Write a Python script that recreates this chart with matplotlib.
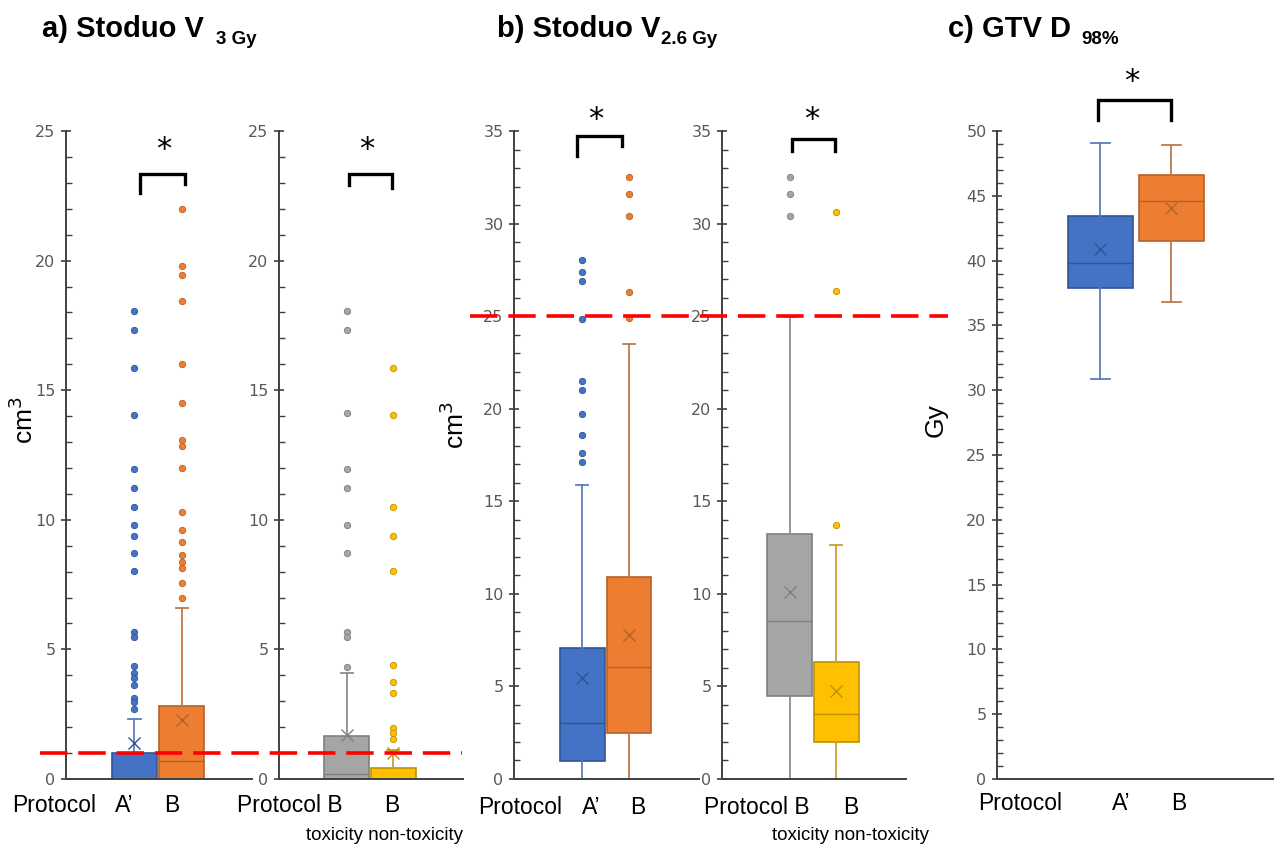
import matplotlib
matplotlib.use('Agg')
import matplotlib.pyplot as plt
from matplotlib.ticker import MultipleLocator
from matplotlib.transforms import blended_transform_factory

# ---------------- data ----------------
groups_ab = ["A'", "B"]
groups_tox = ["B toxicity", "B non-toxicity"]

# panel a : Stoduo V3Gy (cm3)
a_Aprime = dict(q1=0.0, med=0.0, q3=1.0, whislo=0.0, whishi=2.31, mean=1.39)
a_Aprime_out = [18.04, 17.33, 15.87, 14.03, 11.96, 11.22, 10.48, 9.79, 9.36, 8.71, 8.04,
                5.69, 5.48, 4.36, 4.09, 3.88, 3.63, 3.14, 2.97, 2.70]
a_B = dict(q1=0.0, med=0.71, q3=2.82, whislo=0.0, whishi=6.6, mean=2.28)
a_B_out = [21.98, 19.8, 19.46, 18.43, 16.02, 14.49, 13.07, 12.85, 12.0, 10.3, 9.62,
           9.14, 8.63, 8.37, 8.14, 7.56, 7.0]
a_tox = dict(q1=0.0, med=0.19, q3=1.67, whislo=0.0, whishi=4.09, mean=1.7)
a_tox_out = [18.04, 17.33, 14.13, 11.96, 11.22, 9.79, 8.71, 5.69, 5.48, 4.34]
a_nontox = dict(q1=0.0, med=0.0, q3=0.42, whislo=0.0, whishi=1.1, mean=1.0)
a_nontox_out = [15.87, 14.03, 10.48, 9.36, 8.04, 4.39, 3.75, 3.32, 1.97, 1.77, 1.54]
a_limit = 1.0

# panel b : Stoduo V2.6Gy (cm3)
b_Aprime = dict(q1=0.97, med=3.0, q3=7.05, whislo=0.0, whishi=15.88, mean=5.43)
b_Aprime_out = [28.05, 27.37, 26.89, 24.86, 21.51, 21.02, 19.74, 18.56, 17.62, 17.14]
b_B = dict(q1=2.48, med=6.03, q3=10.93, whislo=0.0, whishi=23.49, mean=7.77)
b_B_out = [32.51, 31.6, 30.39, 26.33, 24.9]
b_tox = dict(q1=4.49, med=8.52, q3=13.23, whislo=0.0, whishi=24.96, mean=10.09)
b_tox_out = [32.54, 31.62, 30.41]
b_nontox = dict(q1=2.02, med=3.51, q3=6.32, whislo=0.0, whishi=12.62, mean=4.75)
b_nontox_out = [30.65, 26.35, 13.73]
b_limit = 25.0

# panel c : GTV D98% (Gy)
c_Aprime = dict(q1=37.89, med=39.85, q3=43.45, whislo=30.84, whishi=49.09, mean=40.91)
c_B = dict(q1=41.53, med=44.62, q3=46.62, whislo=36.84, whishi=48.95, mean=44.07)

# ---------------- style ----------------
BLUE = ('#4472C4', '#2F5597', '#5B7DBF')
ORANGE = ('#ED7D31', '#B4612A', '#C27849')
GRAY = ('#A5A5A5', '#7F7F7F', '#8E8E8E')
YELLOW = ('#FFC000', '#BF9000', '#C9A030')
SPINE = '#404040'
TICKC = '#595959'

W, H = 1274, 848
fig = plt.figure(figsize=(W / 100, H / 100), dpi=100)


def rect(l, r, t, b):
    return [l / W, 1 - b / H, (r - l) / W, (b - t) / H]


def make_ax(l, r):
    ax = fig.add_axes(rect(l, r, 131, 779))
    ax.set_facecolor('none')
    for s in ('top', 'right'):
        ax.spines[s].set_visible(False)
    for s in ('left', 'bottom'):
        ax.spines[s].set_color(SPINE)
        ax.spines[s].set_linewidth(1.4)
    return ax


def finish_ax(ax, ymax, major, minor, xlim=(-0.45, 3.49)):
    ax.set_ylim(0, ymax)
    ax.set_xlim(*xlim)
    ax.set_xticks([])
    ax.yaxis.set_major_locator(MultipleLocator(major))
    ax.yaxis.set_minor_locator(MultipleLocator(minor))
    ax.tick_params(axis='y', which='major', direction='inout', length=7, width=1.2,
                   color=SPINE, labelcolor=TICKC, labelsize=11.5, pad=4)
    ax.tick_params(axis='y', which='minor', direction='in', length=4, width=1.0, color=SPINE)
    for lab in ax.get_yticklabels():
        lab.set_fontfamily('DejaVu Sans')


def draw_boxes(ax, stats_list, outs_list, colors_list, width=0.955, capw=0.26):
    for i, (st, outs, cols) in enumerate(zip(stats_list, outs_list, colors_list)):
        face, edge, whisk = cols
        s = dict(st)
        s['fliers'] = outs
        ax.bxp([s], positions=[i + 1], widths=width, patch_artist=True,
               showmeans=True, showfliers=True, capwidths=[capw], manage_ticks=False,
               boxprops=dict(facecolor=face, edgecolor=edge, linewidth=1.2),
               medianprops=dict(color=edge, linewidth=1.0),
               whiskerprops=dict(color=whisk, linewidth=1.3),
               capprops=dict(color=whisk, linewidth=1.3),
               meanprops=dict(marker='x', markeredgecolor=edge, markerfacecolor=edge,
                              markersize=8.5, markeredgewidth=1.0),
               flierprops=dict(marker='o', markerfacecolor=face, markeredgecolor=edge,
                               markersize=4.6, markeredgewidth=0.6))


def bracket(ax, x0, x1, ytop, yl, yr, ystar, xstar):
    ax.plot([x0, x0, x1, x1], [yl, ytop, ytop, yr], color='black', lw=2.4,
            clip_on=False, solid_joinstyle='miter')
    ax.text(xstar, ystar, '*', ha='center', va='center', fontsize=22,
            fontfamily='DejaVu Sans', clip_on=False)


# ---------------- panel a ----------------
a1 = make_ax(66, 252)
draw_boxes(a1, [a_Aprime, a_B], [a_Aprime_out, a_B_out], [BLUE, ORANGE])
finish_ax(a1, 25, 5, 1)
bracket(a1, 1.12, 2.07, 23.36, 22.6, 22.97, 24.3, 1.62)

a2 = make_ax(279, 463)
draw_boxes(a2, [a_tox, a_nontox], [a_tox_out, a_nontox_out], [GRAY, YELLOW])
finish_ax(a2, 25, 5, 1)
bracket(a2, 1.04, 1.98, 23.36, 22.9, 22.8, 24.3, 1.42)

tr = blended_transform_factory(fig.transFigure, a2.transData)
a2.plot([40 / W, 462 / W], [a_limit, a_limit], transform=tr, color='#FF0000', lw=2.6,
        linestyle=(0, (7.6, 3.0)), clip_on=False, zorder=10)

# ---------------- panel b ----------------
b1 = make_ax(514, 699)
draw_boxes(b1, [b_Aprime, b_B], [b_Aprime_out, b_B_out], [BLUE, ORANGE])
finish_ax(b1, 35, 5, 1)
bracket(b1, 0.89, 1.85, 34.74, 33.66, 34.2, 35.6, 1.3)

b2 = make_ax(722, 906)
draw_boxes(b2, [b_tox, b_nontox], [b_tox_out, b_nontox_out], [GRAY, YELLOW])
finish_ax(b2, 35, 5, 1)
bracket(b2, 1.04, 1.96, 34.57, 33.93, 33.93, 35.6, 1.47)

tr = blended_transform_factory(fig.transFigure, b2.transData)
b2.plot([470 / W, 948 / W], [b_limit, b_limit], transform=tr, color='#FF0000', lw=2.6,
        linestyle=(0, (7.6, 3.0)), clip_on=False, zorder=10)

# ---------------- panel c ----------------
c1 = make_ax(997, 1276)
draw_boxes(c1, [c_Aprime, c_B], [[], []], [BLUE, ORANGE], width=0.92)
finish_ax(c1, 50, 5, 1, xlim=(-0.454, 3.47))
bracket(c1, 0.97, 2.0, 52.4, 50.85, 50.85, 53.8, 1.44)

# ---------------- y labels ----------------
def ylab(x, y, s):
    fig.text(x / W, 1 - y / H, s, rotation=90, ha='center', va='center',
             fontsize=19, fontfamily='Liberation Sans')

ylab(24, 420, 'cm$^3$')
ylab(455, 425, 'cm$^3$')
ylab(936, 420, 'Gy')

# ---------------- x labels ----------------
def xt(x, y, s, size=16.5):
    fig.text(x / W, 1 - y / H, s, ha='center', va='center', fontsize=size,
             fontfamily='Liberation Sans')

xt(54, 805, 'Protocol'); xt(124, 805, "A\u2019"); xt(172, 805, 'B')
xt(290, 805, 'Protocol B'); xt(392, 805, 'B')
xt(385, 835, 'toxicity non-toxicity', size=13.5)
xt(520, 807, 'Protocol'); xt(591, 807, "A\u2019"); xt(638, 807, 'B')
xt(757, 807, 'Protocol B'); xt(851, 807, 'B')
xt(850, 836, 'toxicity non-toxicity', size=13.5)
xt(1020, 803, 'Protocol'); xt(1121, 803, "A\u2019"); xt(1179, 803, 'B')

# ---------------- titles ----------------
titles = [(42, 'a) Stoduo V', '3 Gy', 12), (497, 'b) Stoduo V', '2.6 Gy', 1),
          (948, 'c) GTV D', '98%', 10)]
fig.canvas.draw()
renderer = fig.canvas.get_renderer()
for x, main, sub, gap in titles:
    t = fig.text(x / W, 1 - 37 / H, main, fontsize=21, fontweight='bold',
                 fontfamily='Liberation Sans', va='baseline', ha='left')
    bb = t.get_window_extent(renderer)
    fig.text((bb.x1 + gap) / W, 1 - 44 / H, sub, fontsize=13.5, fontweight='bold',
             fontfamily='Liberation Sans', va='baseline', ha='left')

fig.savefig('out.png', dpi=100)
